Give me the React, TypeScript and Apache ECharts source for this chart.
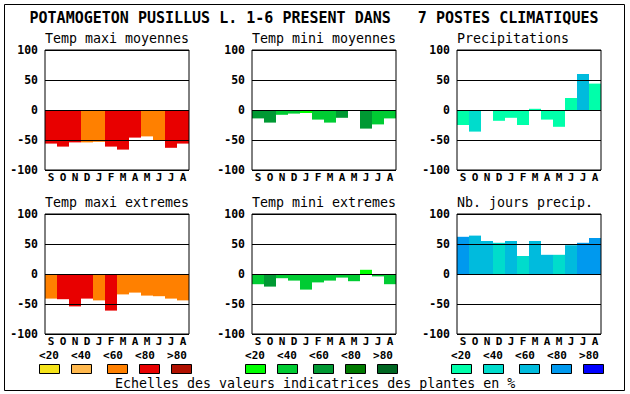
import React, { useEffect, useRef } from "react";
import * as echarts from "echarts";

const months = ["S", "O", "N", "D", "J", "F", "M", "A", "M", "J", "J", "A"];
const yTicks = [-100, -50, 0, 50, 100];
const legendLabels = ["<20", "<40", "<60", "<80", ">80"];

const tempColors = ["#f5e31a", "#ffb84d", "#ff8000", "#e80000", "#b01000"];
const greenColors = ["#00ff00", "#00cc33", "#009933", "#007a00", "#006622"];
const blueColors = ["#00ffaa", "#00dccc", "#00bbdd", "#0099ee", "#0000ff"];

const mainTitle = "POTAMOGETON PUSILLUS L. 1-6 PRESENT DANS   7 POSTES CLIMATIQUES";
const footer = "Echelles des valeurs indicatrices des plantes en %";

// values
const tempMaxiMoy = [-56, -61, -54, -54, -53, -61, -66, -46, -44, -51, -63, -56];
const tempMiniMoy = [-14, -21, -8, -6, -5, -16, -21, -13, 0, -31, -24, -14];
const precip = [-25, -36, -1, -18, -13, -25, 2, -16, -28, 20, 60, 44];
const tempMaxiExt = [-41, -42, -54, -41, -44, -61, -34, -31, -36, -37, -41, -44];
const tempMiniExt = [-17, -21, -7, -11, -26, -14, -11, -6, -12, 7, -4, -17];
const nbJours = [62, 64, 55, 52, 55, 30, 55, 32, 32, 48, 52, 60];

// class (1..5) of each bar => legend colour
const clsMaxiMoy = [4, 4, 4, 3, 3, 4, 4, 4, 3, 3, 4, 4];
const clsMiniMoy = [3, 3, 2, 2, 1, 2, 2, 3, 2, 3, 2, 2];
const clsPrecip = [1, 2, 1, 1, 1, 1, 1, 1, 1, 1, 3, 1];
const clsMaxiExt = [3, 4, 4, 4, 3, 4, 3, 3, 3, 3, 3, 3];
const clsMiniExt = [2, 3, 2, 2, 2, 2, 2, 2, 2, 1, 2, 2];
const clsNbJours = [4, 3, 3, 2, 3, 2, 3, 3, 2, 3, 4, 4];

const panels = [
  { title: "Temp maxi moyennes", values: tempMaxiMoy, cls: clsMaxiMoy, colors: tempColors, col: 0, row: 0 },
  { title: "Temp mini moyennes", values: tempMiniMoy, cls: clsMiniMoy, colors: greenColors, col: 1, row: 0 },
  { title: "Precipitations", values: precip, cls: clsPrecip, colors: blueColors, col: 2, row: 0 },
  { title: "Temp maxi extremes", values: tempMaxiExt, cls: clsMaxiExt, colors: tempColors, col: 0, row: 1 },
  { title: "Temp mini extremes", values: tempMiniExt, cls: clsMiniExt, colors: greenColors, col: 1, row: 1 },
  { title: "Nb. jours precip.", values: nbJours, cls: clsNbJours, colors: blueColors, col: 2, row: 1 },
];

const colLeft = [45, 252, 457];
const rowTop = [50, 214];
const PW = 144;
const PH = 120;
const legendBase = [39, 245, 451];
const legendColors = [tempColors, greenColors, blueColors];
const boxOffsets = [0, 32, 68, 100, 132];
const labelOffsets = [0, 32, 64, 96, 128];

const MONO = "'DejaVu Sans Mono', 'Liberation Mono', monospace";

export default function App() {
  const ref = useRef<HTMLDivElement>(null);
  useEffect(() => {
    if (!ref.current) return;
    const chart = echarts.init(ref.current, undefined, { renderer: "svg" });
    const grids: any[] = [];
    const xAxes: any[] = [];
    const yAxes: any[] = [];
    const series: any[] = [];
    const graphic: any[] = [];

    graphic.push({
      type: "rect",
      shape: { x: 4.5, y: 4.5, width: 620, height: 386 },
      style: { fill: "none", stroke: "#000", lineWidth: 1 },
      z: 100,
    });
    graphic.push({
      type: "text",
      x: 314,
      y: 18,
      style: { text: mainTitle, font: `bold 15px ${MONO}`, fill: "#000", align: "center", verticalAlign: "middle" },
    });
    graphic.push({
      type: "text",
      x: 115,
      y: 383,
      style: { text: footer, font: `13.3px ${MONO}`, fill: "#000", align: "left", verticalAlign: "middle" },
    });

    panels.forEach((p, i) => {
      const left = colLeft[p.col];
      const top = rowTop[p.row];
      grids.push({
        left,
        top,
        width: PW,
        height: PH,
        show: true,
        borderColor: "#000",
        borderWidth: 1,
        backgroundColor: "transparent",
        z: 6,
        containLabel: false,
      });
      xAxes.push({
        type: "category",
        gridIndex: i,
        data: months,
        axisLine: { show: false },
        axisTick: { show: false },
        axisLabel: {
          interval: 0,
          margin: 2,
          color: "#000",
          fontFamily: MONO,
          fontWeight: "bold",
          fontSize: 11,
          lineHeight: 11,
        },
        splitLine: { show: false },
      });
      yAxes.push({
        type: "value",
        gridIndex: i,
        min: -100,
        max: 100,
        interval: 50,
        z: 5,
        axisLine: { show: false },
        axisTick: { show: false },
        axisLabel: {
          margin: 7,
          color: "#000",
          fontFamily: MONO,
          fontWeight: "bold",
          fontSize: 11.5,
          lineHeight: 11,
          formatter: (v: number) => (yTicks.includes(v) ? String(v) : ""),
        },
        splitLine: { show: true, lineStyle: { color: "#000", width: 1 } },
      });
      series.push({
        type: "bar",
        xAxisIndex: i,
        yAxisIndex: i,
        barCategoryGap: 0,
        barWidth: "100%",
        data: p.values.map((v, k) => ({ value: v, itemStyle: { color: p.colors[p.cls[k] - 1] } })),
      });
      graphic.push({
        type: "text",
        x: left,
        y: top - 12,
        style: { text: p.title, font: `13.3px ${MONO}`, fill: "#000", align: "left", verticalAlign: "middle" },
      });
    });

    legendBase.forEach((base, c) => {
      legendLabels.forEach((lab, k) => {
        graphic.push({
          type: "text",
          x: base + labelOffsets[k] + 10,
          y: 355,
          style: {
            text: lab,
            font: `bold 11px ${MONO}`,
            lineHeight: 11,
            fill: "#000",
            align: "center",
            verticalAlign: "middle",
          },
        });
        graphic.push({
          type: "rect",
          shape: { x: base + boxOffsets[k] + 0.5, y: 364.5, width: 20, height: 9 },
          style: { fill: legendColors[c][k], stroke: "#000", lineWidth: 1 },
        });
      });
    });

    chart.setOption({
      animation: false,
      backgroundColor: "#fff",
      grid: grids,
      xAxis: xAxes,
      yAxis: yAxes,
      series,
      graphic,
    });
    return () => chart.dispose();
  }, []);
  return (
    <div
      ref={ref}
      style={{ position: "fixed", left: 0, top: 0, width: 630, height: 394, background: "#fff" }}
    />
  );
}
